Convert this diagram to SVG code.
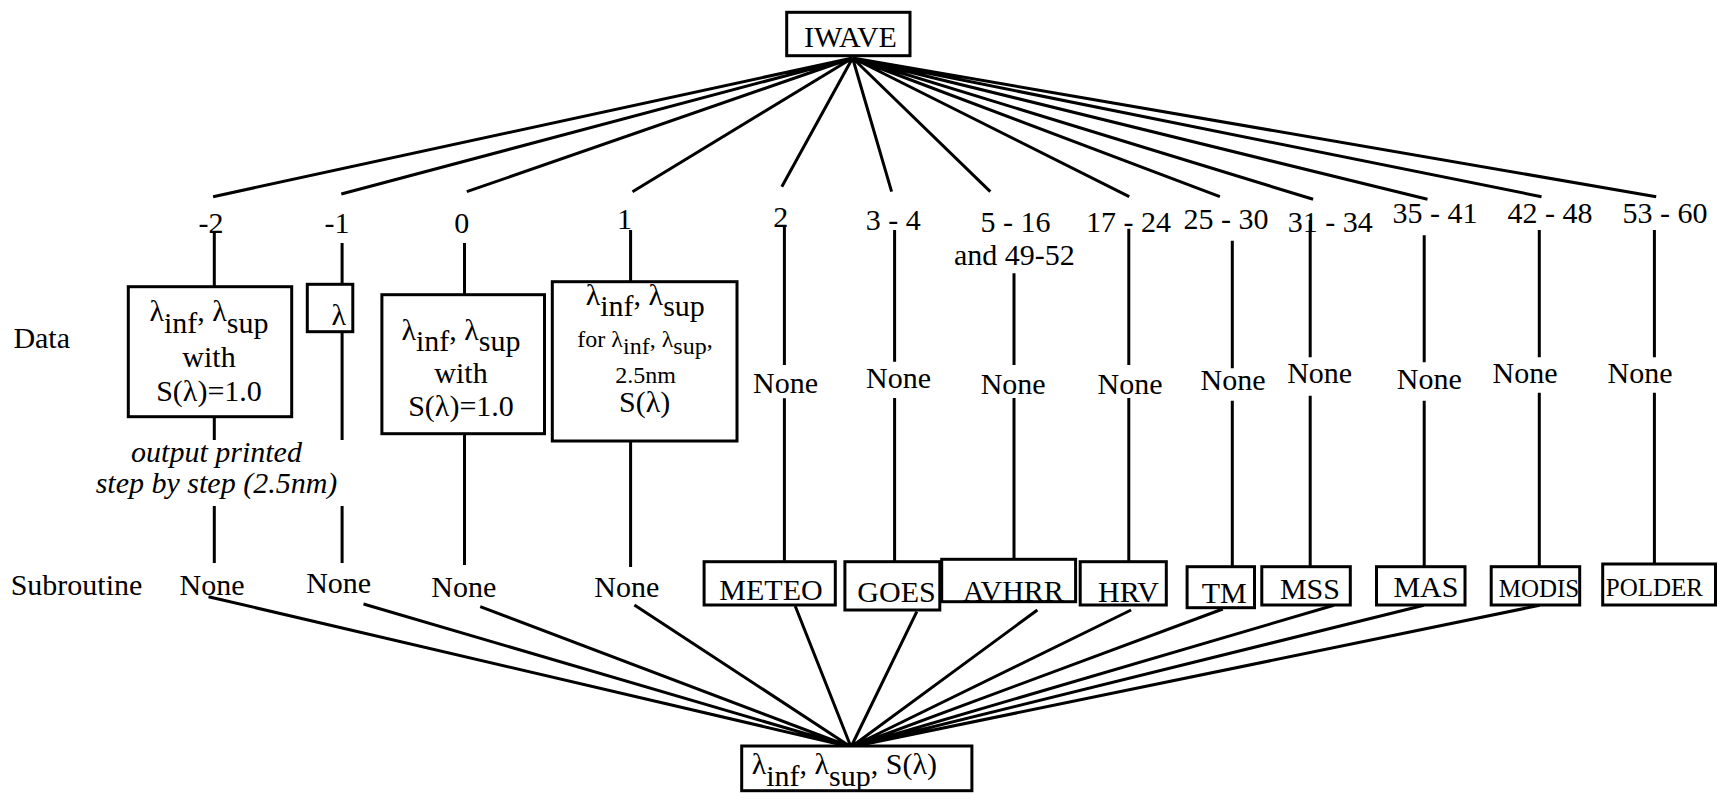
<svg xmlns="http://www.w3.org/2000/svg" width="1721" height="801" viewBox="0 0 1721 801">
<style>
text{font-family:"Liberation Serif","Times New Roman",serif;font-size:30px;fill:#000}
.m{text-anchor:middle}
.box{fill:#fff;stroke:#000;stroke-width:3}
.ln{stroke:#000;stroke-width:3;fill:none}
.it{font-style:italic}
.sm{font-size:24px}
.s25{font-size:25px}
</style>
<rect width="1721" height="801" fill="#fff"/>
<g id="connectors" class="ln">
  <path d="M852.6 58L213.1 196.7M852.6 58L341.3 194M852.6 58L466.8 191.7M852.6 58L632.5 191.7M852.6 58L781.8 186.7M852.6 58L891.6 191.7M852.6 58L990.3 191.7M852.6 58L1129.2 196.7M852.6 58L1219.9 196.7M852.6 58L1313.1 199.3M852.6 58L1427.5 199.3M852.6 58L1541.5 196.7M852.6 58L1656.2 196.7"/>
  <path d="M214.3 232V287M214.3 417V440M214.3 506V563M342.1 243V284.3M342.1 331.7V440M342.1 506V563M464.5 243V294.7M464.5 433.7V565M630.6 230V282M630.6 441V567M784.4 227V365M784.4 398.3V560.7M894.6 230V361.7M894.6 398V561.7M1014 273.3V365M1014 398V559.3M1128.8 228.7V365M1128.8 398V561.7M1232.3 240.7V368.3M1232.3 400.7V566.7M1310.2 220V357.3M1310.2 395.7V566.7M1424.2 235.3V362.3M1424.2 400.7V566.7M1539.3 230V357.3M1539.3 392.7V566.7M1654.4 230V357.3M1654.4 392.7V564"/>
  <path d="M208.5 596.7L851 747M363.5 604L851 747M480.2 606.7L851 747M634.4 605L851 747M795.2 606L851 747M916.8 611.7L851 747M1037.4 610L851 747M1131.1 610L851 747M1222.8 609L851 747M1333.9 605.3L851 747M1423.9 605.3L851 747M1539.7 605.3L851 747"/>
</g>
<g id="iwave">
  <rect class="box" x="786.7" y="12.3" width="123.3" height="43.4"/>
  <text class="m" x="850.5" y="46.7">IWAVE</text>
</g>
<g id="row-labels">
  <text x="13.4" y="348.3">Data</text>
  <text x="10.7" y="595">Subroutine</text>
</g>
<g id="codes">
  <text class="m" x="211" y="233">-2</text>
  <text class="m" x="337" y="233">-1</text>
  <text class="m" x="461.7" y="233">0</text>
  <text class="m" x="624.5" y="229">1</text>
  <text class="m" x="780.8" y="227">2</text>
  <text class="m" x="893.3" y="230">3 - 4</text>
  <text class="m" x="1015.4" y="232">5 - 16</text>
  <text class="m" x="1014.3" y="265">and 49-52</text>
  <text class="m" x="1128.5" y="232">17 - 24</text>
  <text class="m" x="1226" y="229">25 - 30</text>
  <text class="m" x="1330.3" y="232">31 - 34</text>
  <text class="m" x="1435" y="223">35 - 41</text>
  <text class="m" x="1550" y="223">42 - 48</text>
  <text class="m" x="1665" y="223">53 - 60</text>
</g>
<g id="data-m2">
  <rect class="box" x="128.3" y="286.7" width="163.4" height="130"/>
  <text class="m" x="209" y="321">λ<tspan dy="12">inf</tspan><tspan dy="-12">, λ</tspan><tspan dy="12">sup</tspan></text>
  <text class="m" x="209" y="366.7">with</text>
  <text class="m" x="209" y="400.7">S(λ)=1.0</text>
</g>
<g id="note-m2">
  <text class="m it" x="216.5" y="461.7">output printed</text>
  <text class="m it" x="216.5" y="493.3">step by step (2.5nm)</text>
</g>
<g id="data-m1">
  <rect class="box" x="307.3" y="284.3" width="45.5" height="47.4"/>
  <text class="m" x="338.7" y="325">λ</text>
</g>
<g id="data-0">
  <rect class="box" x="381.9" y="294.7" width="162.6" height="139"/>
  <text class="m" x="461" y="340">λ<tspan dy="11">inf</tspan><tspan dy="-11">, λ</tspan><tspan dy="11">sup</tspan></text>
  <text class="m" x="461" y="383.3">with</text>
  <text class="m" x="461" y="416">S(λ)=1.0</text>
</g>
<g id="data-1">
  <rect class="box" x="552.3" y="281.7" width="184.7" height="159.3"/>
  <text class="m" x="645.3" y="305">λ<tspan dy="11">inf</tspan><tspan dy="-11">, λ</tspan><tspan dy="11">sup</tspan></text>
  <text class="m sm" x="645" y="346.7">for λ<tspan dy="7">inf</tspan><tspan dy="-7">, λ</tspan><tspan dy="7">sup</tspan><tspan dy="-7">,</tspan></text>
  <text class="m sm" x="645.5" y="383.3">2.5nm</text>
  <text class="m" x="644.7" y="412.3">S(λ)</text>
</g>
<g id="data-none">
  <text class="m" x="785.6" y="393">None</text>
  <text class="m" x="898.5" y="388.3">None</text>
  <text class="m" x="1013.2" y="394">None</text>
  <text class="m" x="1130" y="394">None</text>
  <text class="m" x="1233" y="390">None</text>
  <text class="m" x="1319.7" y="383.3">None</text>
  <text class="m" x="1429.3" y="389.3">None</text>
  <text class="m" x="1525" y="382.7">None</text>
  <text class="m" x="1640" y="382.7">None</text>
</g>
<g id="sub-none">
  <text class="m" x="212" y="595">None</text>
  <text class="m" x="338.7" y="593.3">None</text>
  <text class="m" x="463.8" y="596.7">None</text>
  <text class="m" x="626.8" y="596.7">None</text>
</g>
<g id="meteo">
  <rect class="box" x="704.1" y="561.7" width="131.2" height="43.3"/>
  <text class="m" x="771" y="600">METEO</text>
</g>
<g id="goes">
  <rect class="box" x="844.9" y="561.7" width="94.9" height="48.3"/>
  <text class="m" x="896.5" y="601.7">GOES</text>
</g>
<g id="avhrr">
  <rect class="box" x="941.7" y="559.3" width="133.9" height="42.4"/>
  <text class="m" x="1013.3" y="600.7">AVHRR</text>
</g>
<g id="hrv">
  <rect class="box" x="1080.2" y="561.7" width="86.1" height="43.3"/>
  <text class="m" x="1128.5" y="601.7">HRV</text>
</g>
<g id="tm">
  <rect class="box" x="1187.1" y="566.7" width="67.4" height="41"/>
  <text class="m" x="1224.3" y="602.7">TM</text>
</g>
<g id="mss">
  <rect class="box" x="1261.8" y="566.7" width="88.5" height="38.3"/>
  <text class="m" x="1309.9" y="599.3">MSS</text>
</g>
<g id="mas">
  <rect class="box" x="1376.5" y="566.7" width="88.5" height="38.3"/>
  <text class="m" x="1425.9" y="596.7">MAS</text>
</g>
<g id="modis">
  <rect class="box" x="1491.2" y="566.7" width="88.5" height="38.3"/>
  <text class="m s25" x="1539" y="596.7">MODIS</text>
</g>
<g id="polder">
  <rect class="box" x="1602.7" y="564" width="112.8" height="41"/>
  <text class="m s25" x="1654.4" y="595.7">POLDER</text>
</g>
<g id="result">
  <rect class="box" x="741.7" y="746" width="230.2" height="44.7"/>
  <text x="751.7" y="774.3">λ<tspan dy="12">inf</tspan><tspan dy="-12">, λ</tspan><tspan dy="12">sup</tspan><tspan dy="-12">, S(λ)</tspan></text>
</g>
</svg>
